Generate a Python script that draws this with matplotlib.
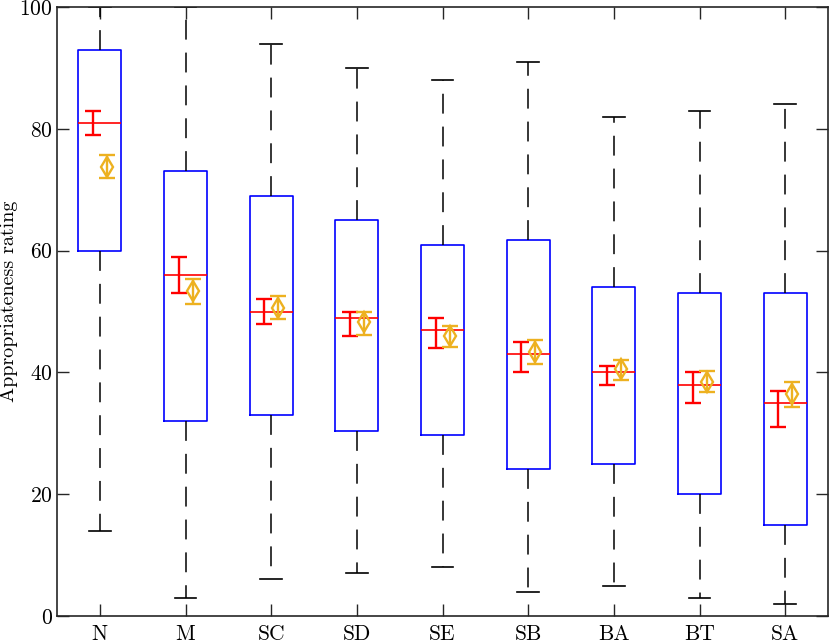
import matplotlib
matplotlib.use("Agg")
import matplotlib.pyplot as plt

# -----------------------------------------------------------------------------
# Data

categories = ["N", "M", "SC", "SD", "SE", "SB", "BA", "BT", "SA"]

box_q1 = [60.0, 32.0, 33.0, 30.3, 29.8, 24.2, 25.0, 20.0, 15.0]
box_q3 = [93.0, 73.0, 69.0, 65.0, 61.0, 61.8, 54.0, 53.0, 53.0]
medians = [81.0, 56.0, 50.0, 49.0, 47.0, 43.0, 40.0, 38.0, 35.0]
whisk_lo = [14.0, 3.0, 6.0, 7.0, 8.0, 4.0, 5.0, 3.0, 2.0]
whisk_hi = [100.0, 100.0, 94.0, 90.0, 88.0, 91.0, 82.0, 83.0, 84.0]

# confidence interval of the median (red)
med_ci_lo = [79.0, 53.0, 48.0, 46.0, 44.0, 40.0, 38.0, 35.0, 31.0]
med_ci_hi = [83.0, 59.0, 52.0, 50.0, 49.0, 45.0, 41.0, 40.0, 37.0]

# mean with confidence interval (orange)
means = [73.8, 53.3, 50.6, 48.2, 46.0, 43.4, 40.5, 38.5, 36.5]
mean_ci_lo = [72.0, 51.3, 48.7, 46.2, 44.1, 41.4, 38.7, 36.7, 34.4]
mean_ci_hi = [75.7, 55.3, 52.5, 49.9, 47.7, 45.3, 42.1, 40.3, 38.4]

# -----------------------------------------------------------------------------
# Style

plt.rcParams.update({
    "font.family": "serif",
    "font.serif": ["cmr10", "DejaVu Serif"],
    "axes.formatter.use_mathtext": True,
    "font.size": 15.5,
})

BLUE = (0.0, 0.0, 1.0)
RED = (1.0, 0.0, 0.0)
ORANGE = (0.929, 0.694, 0.125)
AXCOL = "#262626"

fig = plt.figure(figsize=(8.30, 6.43), dpi=100)
# axes box: x 57..828 px, y 7..616 px
ax = fig.add_axes([57 / 830, 27 / 643, 771 / 830, 609 / 643])

positions = list(range(1, len(categories) + 1))

stats = []
for i, name in enumerate(categories):
    stats.append(dict(label=name, med=medians[i], q1=box_q1[i], q3=box_q3[i],
                      whislo=whisk_lo[i], whishi=whisk_hi[i], fliers=[]))

ax.bxp(stats, positions=positions, widths=0.5, showfliers=False,
       boxprops=dict(color=BLUE, linewidth=1.2),
       medianprops=dict(color=RED, linewidth=1.2),
       whiskerprops=dict(color="black", linewidth=1.1,
                         linestyle=(0, (13, 8.5))),
       capprops=dict(color="black", linewidth=1.2),
       capwidths=0.25, zorder=2)

# median confidence intervals
red_x = [p - 0.08 for p in positions]
red_mid = [(lo + hi) / 2 for lo, hi in zip(med_ci_lo, med_ci_hi)]
red_half = [(hi - lo) / 2 for lo, hi in zip(med_ci_lo, med_ci_hi)]
ax.errorbar(red_x, red_mid, yerr=red_half,
            fmt="none", ecolor=RED, elinewidth=1.7, capsize=6,
            capthick=1.7, zorder=3)

# means with confidence intervals
orange_x = [p + 0.085 for p in positions]
ax.errorbar(orange_x, means,
            yerr=[[m - lo for m, lo in zip(means, mean_ci_lo)],
                  [hi - m for m, hi in zip(means, mean_ci_hi)]],
            fmt="d", color=ORANGE, markerfacecolor="none",
            markeredgecolor=ORANGE, markeredgewidth=1.7, markersize=10,
            elinewidth=1.7, capsize=6, capthick=1.7, zorder=3)

# Axes
ax.set_xlim(0.5, 9.5)
ax.set_ylim(0, 100)
ax.set_xticks(positions)
ax.set_xticklabels(categories)
ax.set_yticks(range(0, 101, 20))
ax.set_ylabel("Appropriateness rating", fontsize=14.5)
# rotated label is anchored at its descender side (right edge)
ax.yaxis.set_label_coords(-39 / 771, (616 - 301) / 609)
ax.tick_params(direction="in", length=8.5, width=1.0, color=AXCOL,
               top=True, right=True)
ax.tick_params(axis="y", pad=3)
ax.tick_params(axis="x", pad=6)
for spine in ax.spines.values():
    spine.set_color(AXCOL)
    spine.set_linewidth(1.2)

fig.savefig("out.png", dpi=100)
